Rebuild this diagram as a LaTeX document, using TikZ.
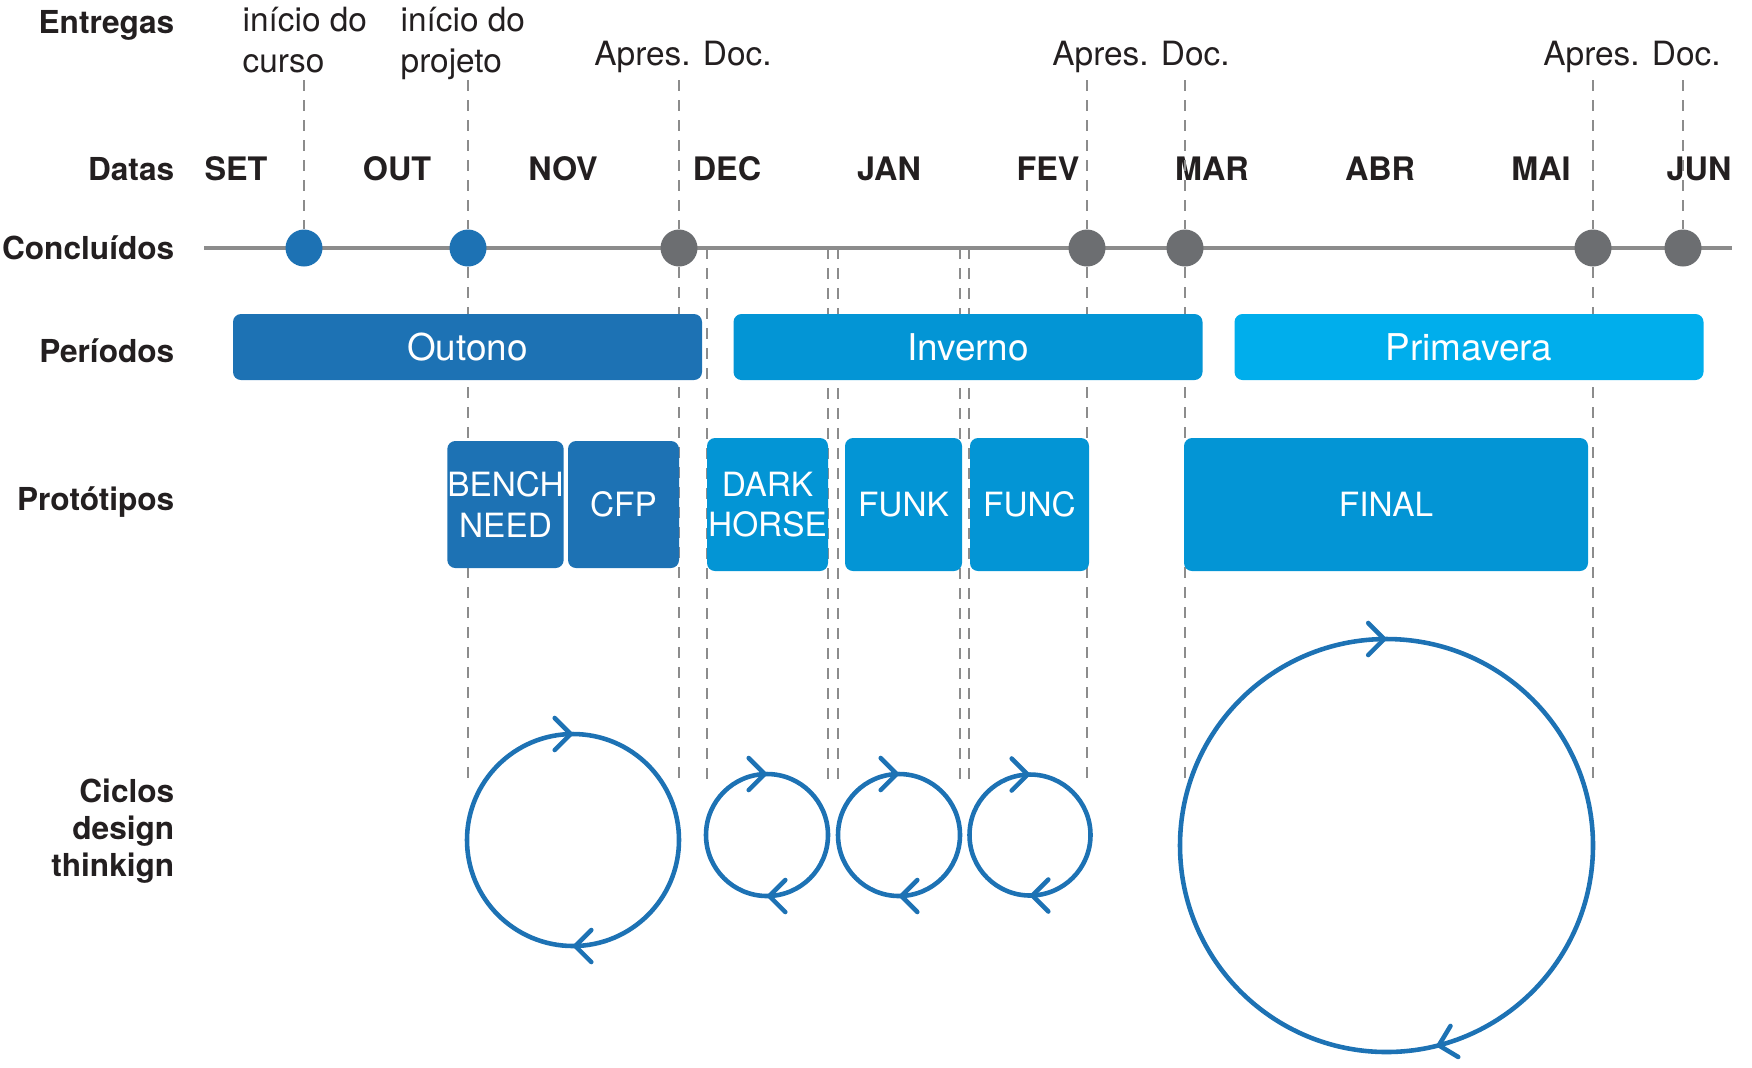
\documentclass[tikz,border=0pt]{standalone}
\usepackage{fontspec}
\setmainfont{TeX Gyre Heros}
\usepackage{xcolor}
\usepackage{tikz}
\usetikzlibrary{arrows.meta, decorations.markings}

\definecolor{outono}{HTML}{1D72B4}
\definecolor{inverno}{HTML}{0395D5}
\definecolor{primavera}{HTML}{00AEEC}
\definecolor{marco}{HTML}{6C6E71}
\definecolor{guia}{HTML}{8C8C8C}
\definecolor{texto}{HTML}{231F20}

\tikzstyle{rowlabel} = [anchor=base east, inner sep=0pt, align=right, text=texto, font=\fontsize{9}{10.5}\selectfont\bfseries]
\tikzstyle{month} = [anchor=base, text=texto, font=\fontsize{9.2}{11}\selectfont\bfseries]
\tikzstyle{entrega} = [anchor=base west, inner sep=0pt, align=left, text=texto, font=\fontsize{9.5}{11.4}\selectfont]
\tikzstyle{apres} = [anchor=base, text=texto, font=\fontsize{9.5}{11.4}\selectfont]
\tikzstyle{linha} = [draw=guia, line width=0.9pt]
\tikzstyle{feito} = [circle, minimum size=0.37cm, inner sep=0pt, fill=outono]
\tikzstyle{pendente} = [circle, minimum size=0.37cm, inner sep=0pt, fill=marco]
\tikzstyle{guide} = [draw=guia, line width=0.6pt, dash pattern=on 1.1mm off 0.9mm]
\tikzstyle{periodo} = [rectangle, rounded corners=0.8mm, minimum width=4.69cm, minimum height=0.66cm, text height=2.6mm, text depth=0pt, text=white, font=\fontsize{10.5}{12}\selectfont]
\tikzstyle{proto} = [rectangle, rounded corners=0.8mm, inner sep=0pt, align=center, text=white, font=\fontsize{9.5}{11.6}\selectfont]
\tikzset{ciclo/.style={draw=outono, line width=1.3pt, >={Straight Barb[length=1.6mm, width=3.2mm, round]},
  postaction={decorate}, decoration={markings,
    mark=at position 0.25 with {\arrow{>}},
    mark=at position #1 with {\arrow{>}}}},
  ciclo/.default=0.75}

\begin{document}
\begin{tikzpicture}
\useasboundingbox (0,0) rectangle (17.52,-10.67);

% Row labels
\node (entregas) [rowlabel] at (1.75,-0.33) {Entregas};
\node (datas) [rowlabel] at (1.75,-1.80) {Datas};
\node (concluidos) [rowlabel] at (1.75,-2.59) {Concluídos};
\node (periodos) [rowlabel] at (1.75,-3.62) {Períodos};
\node (prototipos) [rowlabel] at (1.75,-5.10) {Protótipos};
\node (ciclos) [rowlabel] at (1.75,-8.76) {Ciclos\\design\\thinkign};

% Deliveries
\node (curso) [entrega] at (2.42,-0.72) {início do\\curso};
\node (projeto) [entrega] at (4.00,-0.72) {início do\\projeto};
\node (apres1) [apres] at (6.83,-0.65) {Apres. Doc.};
\node (apres2) [apres] at (11.41,-0.65) {Apres. Doc.};
\node (apres3) [apres] at (16.32,-0.65) {Apres. Doc.};

% Months
\node (set) [month] at (2.36,-1.80) {SET};
\node (out) [month] at (3.97,-1.80) {OUT};
\node (nov) [month] at (5.63,-1.80) {NOV};
\node (dec) [month] at (7.27,-1.80) {DEC};
\node (jan) [month] at (8.89,-1.80) {JAN};
\node (fev) [month] at (10.48,-1.80) {FEV};
\node (mar) [month] at (12.12,-1.80) {MAR};
\node (abr) [month] at (13.80,-1.80) {ABR};
\node (mai) [month] at (15.41,-1.80) {MAI};
\node (jun) [month] at (16.99,-1.80) {JUN};

% Timeline
\coordinate (inicio) at (2.04,-2.48);
\coordinate (fim) at (17.32,-2.48);
\coordinate (topo) at (0,-0.80);
\coordinate (base) at (0,-7.83);
\draw [linha] (inicio) -- (fim);

\node (d1) [feito] at (3.04,-2.48) {};
\node (d2) [feito] at (4.68,-2.48) {};
\node (d3) [pendente] at (6.79,-2.48) {};
\node (d4) [pendente] at (10.87,-2.48) {};
\node (d5) [pendente] at (11.85,-2.48) {};
\node (d6) [pendente] at (15.93,-2.48) {};
\node (d7) [pendente] at (16.83,-2.48) {};

\coordinate (g1) at (7.07,-2.48);
\coordinate (g2) at (8.28,-2.48);
\coordinate (g3) at (8.38,-2.48);
\coordinate (g4) at (9.60,-2.48);
\coordinate (g5) at (9.69,-2.48);

% Guides
\draw [guide] (d1 |- topo) -- (d1.north);
\draw [guide] (d2 |- topo) -- (d2.north);
\draw [guide] (d3 |- topo) -- (d3.north);
\draw [guide] (d4 |- topo) -- (d4.north);
\draw [guide] (d5 |- topo) -- (d5.north);
\draw [guide] (d6 |- topo) -- (d6.north);
\draw [guide] (d7 |- topo) -- (d7.north);
\draw [guide] (d2.south) -- (d2 |- base);
\draw [guide] (d3.south) -- (d3 |- base);
\draw [guide] (d4.south) -- (d4 |- base);
\draw [guide] (d5.south) -- (d5 |- base);
\draw [guide] (d6.south) -- (d6 |- base);
\draw [guide] (g1) -- (g1 |- base);
\draw [guide] (g2) -- (g2 |- base);
\draw [guide] (g3) -- (g3 |- base);
\draw [guide] (g4) -- (g4 |- base);
\draw [guide] (g5) -- (g5 |- base);

% Periods
\node (outono) [periodo, fill=outono] at (4.675,-3.47) {Outono};
\node (inverno) [periodo, fill=inverno] at (9.68,-3.47) {Inverno};
\node (primavera) [periodo, fill=primavera] at (14.69,-3.47) {Primavera};

% Prototypes
\node (bench) [proto, fill=outono, minimum width=1.13cm, minimum height=1.27cm] at (5.055,-5.045) {BENCH\\NEED};
\node (cfp) [proto, fill=outono, minimum width=1.11cm, minimum height=1.27cm] at (6.235,-5.045) {CFP};
\node (dark) [proto, fill=inverno, minimum width=1.21cm, minimum height=1.33cm] at (7.675,-5.045) {DARK\\HORSE};
\node (funk) [proto, fill=inverno, minimum width=1.17cm, minimum height=1.33cm] at (9.035,-5.045) {FUNK};
\node (func) [proto, fill=inverno, minimum width=1.19cm, minimum height=1.33cm] at (10.295,-5.045) {FUNC};
\node (final) [proto, fill=inverno, minimum width=4.04cm, minimum height=1.33cm] at (13.86,-5.045) {FINAL};

% Cycles
\coordinate (c1) at (5.73,-8.40);
\coordinate (c2) at (7.67,-8.35);
\coordinate (c3) at (8.99,-8.35);
\coordinate (c4) at (10.30,-8.35);
\coordinate (c5) at (13.865,-8.455);
\draw [ciclo] (c1) ++(180:1.06) arc[start angle=180, end angle=-180, radius=1.06];
\draw [ciclo] (c2) ++(180:0.61) arc[start angle=180, end angle=-180, radius=0.61];
\draw [ciclo] (c3) ++(180:0.61) arc[start angle=180, end angle=-180, radius=0.61];
\draw [ciclo] (c4) ++(180:0.605) arc[start angle=180, end angle=-180, radius=0.605];
\draw [ciclo=0.711] (c5) ++(180:2.065) arc[start angle=180, end angle=-180, radius=2.065];

\end{tikzpicture}
\end{document}
